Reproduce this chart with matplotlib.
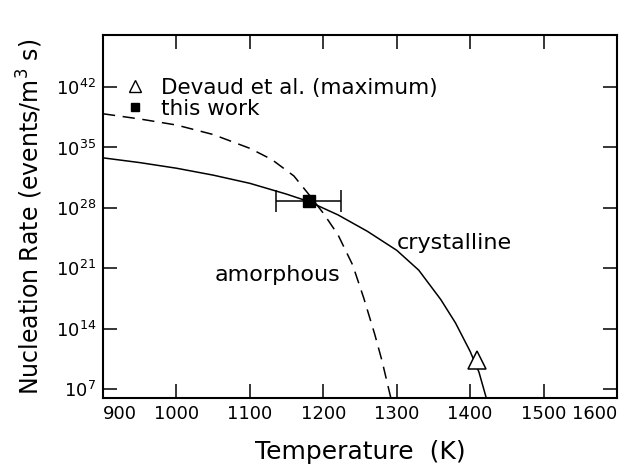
import matplotlib
matplotlib.use('Agg')
import matplotlib.pyplot as plt
import numpy as np

# crystalline curve (solid), log10 of rate
cryst_T = [900, 950, 1000, 1050, 1100, 1150, 1180, 1220, 1260, 1300, 1330, 1360, 1380, 1400, 1412, 1422]
cryst_log = [33.8, 33.25, 32.6, 31.8, 30.85, 29.6, 28.75, 27.2, 25.3, 23.1, 20.8, 17.4, 14.7, 11.4, 9.0, 6.0]

# amorphous curve (dashed)
amor_T = [900, 950, 1000, 1050, 1100, 1130, 1160, 1180, 1200, 1220, 1240, 1255, 1270, 1280, 1292]
amor_log = [38.9, 38.3, 37.6, 36.5, 34.9, 33.6, 31.7, 29.6, 27.4, 24.9, 21.4, 17.6, 13.4, 10.3, 6.0]

# this work: T with error, rate
work_T = [1180]
work_Terr = [44]
work_log = [28.8]

# Devaud et al. (maximum)
devaud_T = [1410]
devaud_log = [10.4]

xticks = [900, 1000, 1100, 1200, 1300, 1400, 1500, 1600]
ytick_exp = [7, 14, 21, 28, 35, 42]

plt.rcParams['font.family'] = 'DejaVu Sans'

fig = plt.figure(figsize=(6.28, 4.75), dpi=100)
ax = fig.add_axes([0.164, 0.162, 0.8185, 0.764])

ax.plot(cryst_T, 10.0 ** np.array(cryst_log), color='black', lw=1.1)
ax.plot(amor_T, 10.0 ** np.array(amor_log), color='black', lw=1.1,
        dashes=(8, 5))

ax.errorbar(work_T, 10.0 ** np.array(work_log), xerr=work_Terr, fmt='s',
            color='black', ms=8, capsize=8, elinewidth=1.1, capthick=1.1,
            zorder=5)
ax.plot(devaud_T, 10.0 ** np.array(devaud_log), '^', mfc='white',
        mec='black', ms=13, mew=1.1, zorder=5)

# legend handles
h1, = ax.plot([], [], '^', mfc='white', mec='black', ms=8, mew=1.0)
h2, = ax.plot([], [], 's', color='black', ms=6)
ax.legend([h1, h2], ['Devaud et al. (maximum)', 'this work'],
          loc='upper left', bbox_to_anchor=(0.029, 0.906), frameon=False,
          handlelength=0.8, handletextpad=0.8, labelspacing=0.05,
          fontsize=15.5, borderaxespad=0)

ax.text(1300, 10.0 ** 24.0, 'crystalline', fontsize=16, va='center', ha='left')
ax.text(1052, 10.0 ** 20.2, 'amorphous', fontsize=16, va='center', ha='left')

ax.set_yscale('log')
ax.set_xlim(900, 1600)
ax.set_ylim(1e6, 1e48)
ax.set_xticks(xticks)
ax.set_xticklabels([str(t) for t in xticks])
ax.set_yticks([10.0 ** e for e in ytick_exp])
ax.set_yticklabels([r'$10^{%d}$' % e for e in ytick_exp])
ax.yaxis.set_minor_locator(matplotlib.ticker.NullLocator())

ax.tick_params(direction='in', length=10, width=1.1, top=True, right=True,
               labelsize=13, pad=5)
# end labels pulled inward like the original
xl = ax.get_xticklabels()
xl[0].set_horizontalalignment('left')
xl[-1].set_horizontalalignment('right')
for s in ax.spines.values():
    s.set_linewidth(1.5)

ax.set_xlabel('Temperature  (K)', fontsize=18, labelpad=12)
ax.set_ylabel(r'Nucleation Rate (events/m$^3$ s)', fontsize=17, labelpad=8)

fig.savefig('out.png', dpi=100)
